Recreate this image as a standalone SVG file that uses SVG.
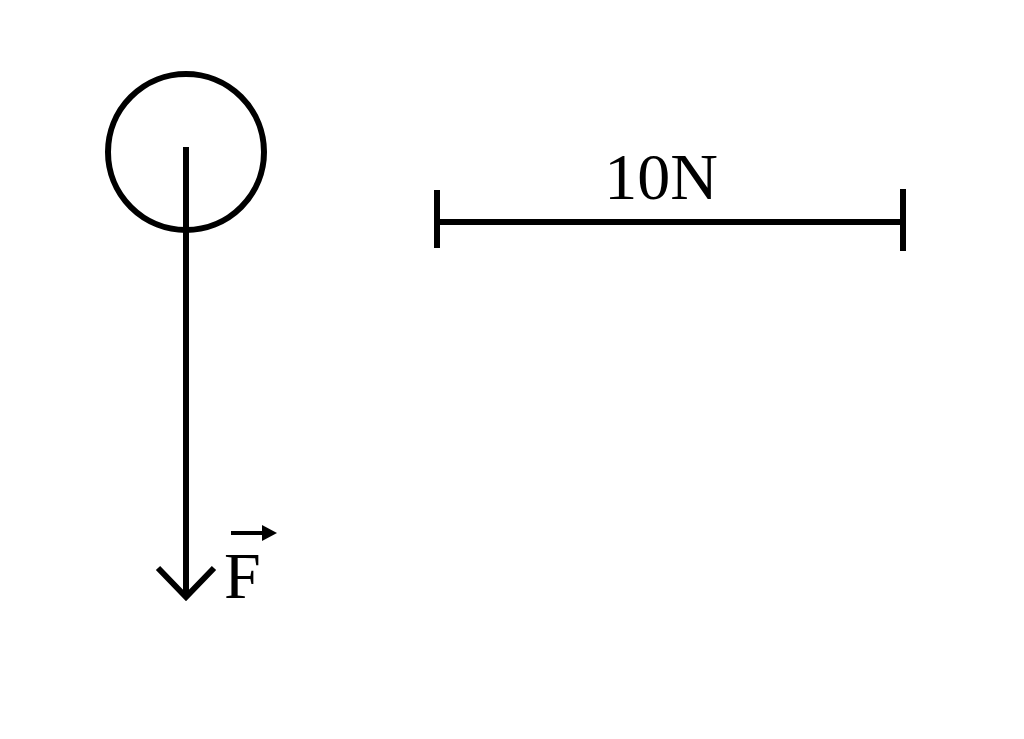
<svg xmlns="http://www.w3.org/2000/svg" width="1024" height="739" viewBox="0 0 1024 739">
<style>
.s{fill:none;stroke:#000;stroke-width:6}
.t{font-family:"Liberation Serif",serif;fill:#000}
</style>
<rect width="1024" height="739" fill="#fff"/>
<g id="body">
<circle class="s" cx="186" cy="152" r="78" stroke-width="6"/>
</g>
<g id="connectors">
<line class="s" x1="186" y1="147" x2="186" y2="596"/>
<polyline class="s" points="158,568 186,597 214,568" stroke-width="7"/>
</g>
<g id="force-label">
<text class="t" x="224" y="598" font-size="66">F</text>
<line x1="231" y1="533" x2="266" y2="533" stroke="#000" stroke-width="4"/>
<path d="M262,525 L277,533 L262,541 Z" fill="#000"/>
</g>
<g id="scale">
<line class="s" x1="436" y1="222" x2="903" y2="222" stroke-width="7"/>
<line class="s" x1="437" y1="190" x2="437" y2="248" stroke-width="7"/>
<line class="s" x1="903" y1="189" x2="903" y2="251" stroke-width="7"/>
<text class="t" x="661" y="199" font-size="66" text-anchor="middle">10N</text>
</g>
</svg>
